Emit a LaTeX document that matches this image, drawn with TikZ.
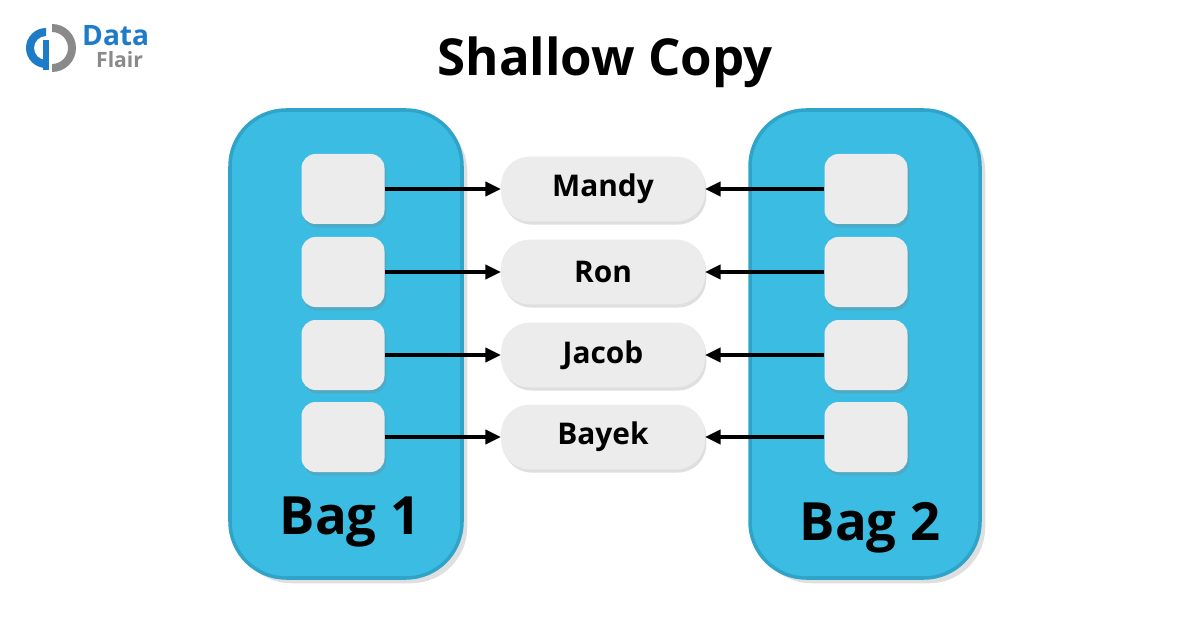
\documentclass[tikz,border=0pt]{standalone}
\usepackage{fontspec}
\setmainfont{Open Sans}
\usetikzlibrary{shadows,arrows.meta}
\definecolor{bagc}{HTML}{3BBDE3}
\definecolor{bagd}{HTML}{2FA3C8}
\definecolor{boxc}{HTML}{ECECEC}
\definecolor{logob}{HTML}{1E7BC8}
\definecolor{logog}{HTML}{8A8A8A}
\newlength\unitlen \setlength\unitlen{0.02cm}
\tikzset{
 bag/.style={fill=bagc,draw=bagd,line width=2pt,rounded corners=32pt,drop shadow={opacity=0.25,shadow xshift=3pt,shadow yshift=-3pt}},
 slot/.style={fill=boxc,rounded corners=8pt,minimum width=83\unitlen,minimum height=70\unitlen,draw=none,drop shadow={opacity=0.3,shadow xshift=1pt,shadow yshift=-2pt}},
 item/.style={fill=boxc,rounded corners=16pt,minimum width=203\unitlen,minimum height=64\unitlen,font=\bfseries\fontsize{17}{20}\selectfont,draw=white!85!gray,drop shadow={opacity=0.25,shadow xshift=1pt,shadow yshift=-2pt}},
 link/.style={-{Triangle[length=9pt,width=8pt]},line width=2.2pt},
 baglabel/.style={font=\bfseries\fontsize{30}{34}\selectfont}
}
\begin{document}
\begin{tikzpicture}[x=0.02cm,y=-0.02cm]
\useasboundingbox[fill=white] (0,0) rectangle (1200,628);
% logo
\begin{scope}[shift={(46,48)},y=0.02cm]
\fill[logob] (0,20) arc (90:270:20) -- (0,-12) arc (270:90:12) -- cycle;
\fill[logob] (-3,8) rectangle (3,-22);
\fill[logog] (6,24) arc (90:-90:24) -- (6,-16) arc (-90:90:16) -- cycle;
\end{scope}
\node[anchor=west,text=logob,font=\bfseries\fontsize{16}{18}\selectfont] (ld) at (76,36) {Data};
\node[anchor=west,text=logog,font=\bfseries\fontsize{12}{14}\selectfont] (lf) at (90,60) {Flair};
\node[font=\bfseries\fontsize{29}{32}\selectfont] (title) at (605,62) {Shallow Copy};
% bags
\draw[bag] (230,110) rectangle (462,578);
\draw[bag] (750,110) rectangle (980,578);
\node[baglabel] (b1) at (350,522) {Bag 1};
\node[baglabel] (b2) at (870,528) {Bag 2};
\foreach \i/\y/\n in {1/189/Mandy,2/272/Ron,3/355/Jacob,4/437/Bayek}{
  \node[slot] (l\i) at (343,\y) {};
  \node[slot] (r\i) at (866,\y) {};
  \node[item] (m\i) at (603,\y) {\n};
  \draw[link] (l\i.east) -- (m\i.west);
  \draw[link] (r\i.west) -- (m\i.east);
}
\end{tikzpicture}
\end{document}
